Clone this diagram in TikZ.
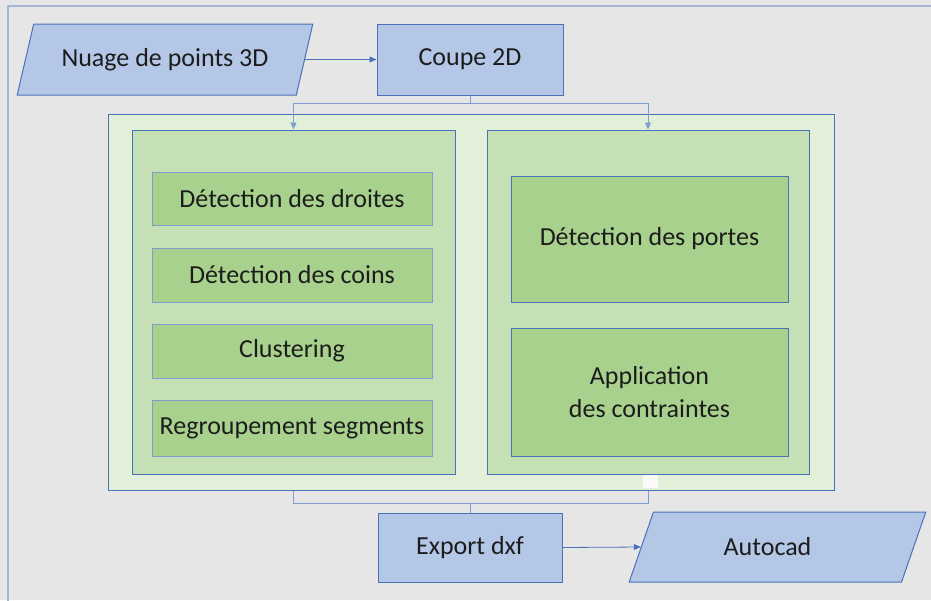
\documentclass[tikz,border=0pt]{standalone}
\usepackage{fontspec}
\setmainfont{Carlito}
\usetikzlibrary{arrows.meta,shapes.geometric,calc}
\definecolor{bggray}{HTML}{E7E6E6}
\definecolor{frameblue}{HTML}{A3B6D9}
\definecolor{lineblue}{HTML}{4A72B8}
\definecolor{splitblue}{HTML}{7F9DD0}
\definecolor{boxblue}{HTML}{B4C7E7}
\definecolor{greenlight}{HTML}{E2F0D9}
\definecolor{greenmid}{HTML}{C5E0B4}
\definecolor{greendark}{HTML}{A9D18E}
\definecolor{txtgray}{HTML}{1C1C1C}
\tikzset{
	blockbase/.style={draw=lineblue, line width=1pt, text=txtgray,
		font=\fontsize{26}{33}\selectfont, align=center, inner sep=0pt},
	process/.style={blockbase, rectangle, fill=boxblue, minimum width=185pt, minimum height=70pt},
	datablock/.style={blockbase, trapezium, trapezium left angle=60, trapezium right angle=120,
		trapezium stretches=true, fill=boxblue, minimum width=296pt, minimum height=71pt},
	outerbox/.style={blockbase, rectangle, fill=greenlight},
	panel/.style={blockbase, rectangle, fill=greenmid, minimum width=323pt, minimum height=344pt},
	stepbox/.style={blockbase, rectangle, fill=greendark, draw=splitblue},
	conn/.style={draw=lineblue, line width=0.8pt},
	splitline/.style={draw=splitblue, line width=0.8pt},
	flow/.style={conn, -{Triangle[length=7pt,width=6pt]}},
}
\begin{document}
\begin{tikzpicture}[x=1pt, y=-1pt]
	\fill[bggray] (0,0) rectangle (931,600);
	\useasboundingbox (0,0) rectangle (931,600);
	\draw[frameblue, line width=1.5pt] (8,610) -- (8,6) -- (940,6);

	\node[datablock] (nuage) at (165,59.5) {Nuage de points 3D};
	\node[process, minimum width=186pt, minimum height=71pt] (coupe) at (470,59.5) {Coupe 2D};

	\node[outerbox, minimum width=726pt, minimum height=376pt] (bloc) at (471,302) {};
	\node[panel] (lpanel) at (293.5,302) {};
	\node[panel, minimum width=322pt] (rpanel) at (648,302) {};

	\node[stepbox, minimum width=280pt, minimum height=53pt] (droites) at (292,198.5) {Détection des droites};
	\node[stepbox, minimum width=280pt, minimum height=54pt] (coins) at (292,275) {Détection des coins};
	\node[stepbox, minimum width=280pt, minimum height=54pt] (clust) at (292,351) {Clustering};
	\node[stepbox, minimum width=280pt, minimum height=56pt] (regroup) at (292,428) {Regroupement segments};

	\node[stepbox, draw=lineblue, minimum width=277pt, minimum height=126pt] (portes) at (649.5,239) {Détection des portes};
	\node[stepbox, draw=lineblue, minimum width=277pt, minimum height=128pt] (contr) at (649.5,392) {Application\\des contraintes};

	\node[process, minimum width=184pt, minimum height=69pt] (export) at (470,547.5) {Export dxf};
	\node[datablock, minimum width=297pt, minimum height=70pt] (autocad) at (777.5,547) {Autocad\hspace*{20pt}};

	\draw[flow] (nuage.east) -- (coupe.west);
	\draw[splitline, -{Triangle[length=7pt,width=6pt]}] (coupe.south) -- ++(0,8) -| (lpanel.north);
	\draw[splitline, -{Triangle[length=7pt,width=6pt]}] (coupe.south) -- ++(0,8) -| (rpanel.north);

	\fill[white!75!bggray] (643,475) rectangle (658,488);
	\draw[splitline] (bloc.south -| lpanel.south) -- ++(0,13) coordinate (joinl) -| (bloc.south -| rpanel.south);
	\draw[splitline] (export.north) -- (export.north |- joinl);
	\draw[flow] (export.east) -- (autocad.west);
\end{tikzpicture}
\end{document}
